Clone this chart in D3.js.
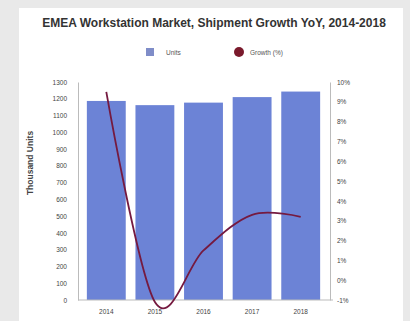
<!DOCTYPE html>
<html>
<head>
<meta charset="utf-8">
<script src="https://cdn.jsdelivr.net/npm/d3@7"></script>
<style>
  html, body { margin: 0; padding: 0; background: #e9e9e9; }
  svg { display: block; font-family: "Liberation Sans", Arial, sans-serif; }
</style>
</head>
<body>
<svg id="chart" width="410" height="321"></svg>
<script>
// Shipment data, EMEA workstations
const years = ["2014", "2015", "2016", "2017", "2018"];
const units = [1187, 1162, 1177, 1210, 1243];          // thousand units
const growth = [9.5, -1.1, 1.5, 3.3, 3.2];             // YoY growth, %
const unitTicks = [0, 100, 200, 300, 400, 500, 600, 700, 800, 900, 1000, 1100, 1200, 1300];
const growthTicks = [-1, 0, 1, 2, 3, 4, 5, 6, 7, 8, 9, 10];

const svg = d3.select("#chart");

// white card
svg.append("rect").attr("x", 19).attr("y", 8).attr("width", 384).attr("height", 320).attr("fill", "#fff");

const plotTop = 82, plotBottom = 300, plotLeft = 82, plotRight = 325, rightAxisX = 330;

const x = d3.scaleBand().domain(years).range([plotLeft, plotRight]).paddingInner(0.2).paddingOuter(0.1);
const yL = d3.scaleLinear().domain([0, 1300]).range([plotBottom, plotTop]);
const yR = d3.scaleLinear().domain([-1, 10]).range([plotBottom, plotTop]);

// title
svg.append("text").attr("x", 214).attr("y", 27).attr("text-anchor", "middle")
  .attr("font-size", 12).attr("font-weight", "bold").attr("fill", "#333")
  .text("EMEA Workstation Market, Shipment Growth YoY, 2014-2018");

// legend
const lg = svg.append("g");
lg.append("rect").attr("x", 146).attr("y", 48).attr("width", 8).attr("height", 8).attr("fill", "#7f8dc8");
lg.append("text").attr("x", 166).attr("y", 55).attr("font-size", 6.5).attr("fill", "#555").text("Units");
lg.append("circle").attr("cx", 239).attr("cy", 52).attr("r", 5).attr("fill", "#7a1a2c");
lg.append("text").attr("x", 250).attr("y", 55).attr("font-size", 6.5).attr("fill", "#555").text("Growth (%)");

// bars
svg.append("g").selectAll("rect").data(years).join("rect")
  .attr("x", d => x(d))
  .attr("y", (d, i) => yL(units[i]))
  .attr("width", x.bandwidth())
  .attr("height", (d, i) => yL(0) - yL(units[i]))
  .attr("fill", "#6c83d6");

const styleAxis = g => {
  g.select(".domain").attr("stroke", "#bbb");
  g.selectAll("text").attr("font-size", 6.5).attr("fill", "#444")
    .attr("font-family", "Liberation Sans, Arial");
};

// left axis
svg.append("g").attr("transform", `translate(${plotLeft - 4},0)`)
  .call(d3.axisLeft(yL).tickValues(unitTicks).tickFormat(d3.format("d")).tickSize(0).tickPadding(11))
  .call(styleAxis);

// right axis
svg.append("g").attr("transform", `translate(${rightAxisX},0)`)
  .call(d3.axisRight(yR).tickValues(growthTicks).tickFormat(d => d + "%").tickSize(0).tickPadding(7))
  .call(styleAxis);

// bottom axis
const axB = svg.append("g").attr("transform", `translate(0,${plotBottom})`)
  .call(d3.axisBottom(x).tickSize(0).tickPadding(9))
  .call(styleAxis);
axB.select(".domain").attr("d", `M${plotLeft - 4},0H${rightAxisX + 3}`);

// y title
svg.append("text").attr("transform", "translate(33,163) rotate(-90)").attr("text-anchor", "middle")
  .attr("font-size", 8.5).attr("font-weight", "bold").attr("fill", "#444").text("Thousand Units");

// smoothed growth line
const line = d3.line()
  .x((d, i) => x(years[i]) + x.bandwidth() / 2)
  .y(d => yR(d))
  .curve(d3.curveCardinal.tension(0));
svg.append("path").datum(growth).attr("d", line)
  .attr("fill", "none").attr("stroke", "#751a40").attr("stroke-width", 1.8);
</script>
</body>
</html>
